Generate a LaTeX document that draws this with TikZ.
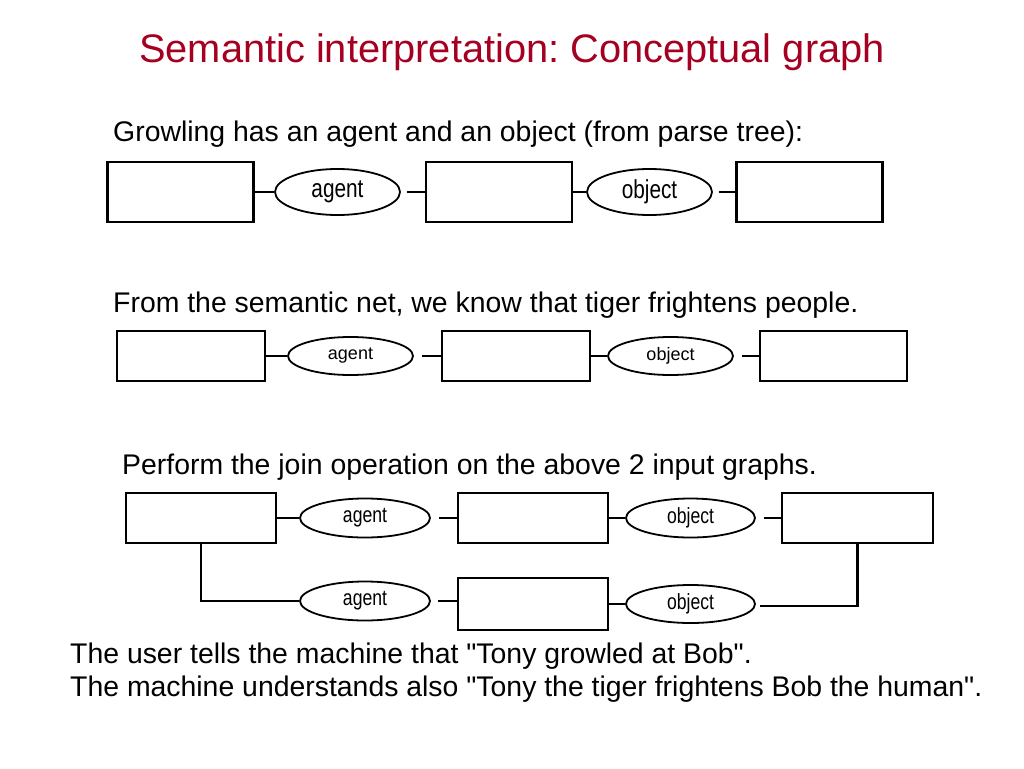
\documentclass[tikz,border=0pt]{standalone}
\usepackage{fontspec}
\setmainfont{Liberation Sans}[Ligatures=TeXOff]
\newfontfamily\narrowfont[FakeStretch=0.8]{Liberation Sans}
\usetikzlibrary{shapes.geometric}
\definecolor{titlered}{HTML}{A50021}
\frenchspacing
\begin{document}
\begin{tikzpicture}[x=1pt,y=-1pt,
  cbox/.style={draw,line width=2.2pt,minimum width=146pt,minimum height=60pt,inner sep=0pt},
  rel/.style={draw,ellipse,line width=1.8pt,minimum width=125pt,minimum height=46pt,inner sep=0pt},
  lnk/.style={line width=2.2pt},
  txt/.style={anchor=west,inner sep=0pt,font=\fontsize{28.4}{34}\selectfont},
  lbA/.style={font=\narrowfont\fontsize{26}{28}\selectfont},
  lbB/.style={font=\fontsize{18}{22}\selectfont},
  lbC/.style={font=\narrowfont\fontsize{22}{24}\selectfont}]
\useasboundingbox (0,0) rectangle (1024,768);
\fill[white] (0,0) rectangle (1024,768);
\node[text=titlered,font=\fontsize{39.8}{46}\selectfont,inner sep=0pt] (title) at (512,52) {Semantic interpretation: Conceptual graph};
% row 1
\node[txt] (t1) at (113,134) {Growling has an agent and an object (from parse tree):};
\node[cbox] (a1) at (180.5,192) {};
\node[rel,lbA] (e1) at (337.5,192) {agent};
\node[cbox] (b1) at (499,192) {};
\node[rel,lbA] (f1) at (649.5,192) {object};
\node[cbox] (c1) at (809.5,192) {};
\draw[lnk] (a1.east) -- (e1.west);
\draw[lnk,shorten <=6pt] (e1.east) -- (b1.west);
\draw[lnk] (b1.east) -- (f1.west);
\draw[lnk,shorten <=6pt] (f1.east) -- (c1.west);
% row 2
\node[txt] (t2) at (113,305) {From the semantic net, we know that tiger frightens people.};
\node[cbox,minimum width=148pt,minimum height=50pt] (a2) at (191,356) {};
\node[rel,lbB,minimum height=38pt] (e2) at (350.5,356) {agent};
\node[cbox,minimum width=148pt,minimum height=50pt] (b2) at (516,356) {};
\node[rel,lbB,minimum height=38pt] (f2) at (670.5,356) {object};
\node[cbox,minimum width=147pt,minimum height=50pt] (c2) at (833.5,356) {};
\draw[lnk] (a2.east) -- (e2.west);
\draw[lnk,shorten <=8pt] (e2.east) -- (b2.west);
\draw[lnk] (b2.east) -- (f2.west);
\draw[lnk,shorten <=8pt] (f2.east) -- (c2.west);
% row 3
\node[txt] (t3) at (122,467) {Perform the join operation on the above 2 input graphs.};
\node[cbox,minimum width=150pt,minimum height=50pt] (a3) at (201,518) {};
\node[rel,lbC,minimum width=130pt,minimum height=39pt] (e3) at (365,518) {agent};
\node[cbox,minimum width=150pt,minimum height=50pt] (b3) at (533,518) {};
\node[rel,lbC,minimum width=129pt,minimum height=39pt] (f3) at (690.5,518) {object};
\node[cbox,minimum width=151pt,minimum height=50pt] (c3) at (857.5,518) {};
\draw[lnk] (a3.east) -- (e3.west);
\draw[lnk,shorten <=8pt] (e3.east) -- (b3.west);
\draw[lnk] (b3.east) -- (f3.west);
\draw[lnk,shorten <=8pt] (f3.east) -- (c3.west);
\node[rel,lbC,minimum width=130pt,minimum height=39pt] (e4) at (365,601) {agent};
\node[cbox,minimum width=150pt,minimum height=52pt] (b4) at (533,604) {};
\node[rel,lbC,minimum width=129pt,minimum height=38pt] (f4) at (690.5,604) {object};
\coordinate (k1) at (a3.south |- e4.west);
\coordinate (k2) at ([xshift=4pt]f4.east |- 0,606);
\coordinate (k3) at (c3.south |- k2);
\draw[lnk] (a3.south) -- (k1) -- (e4.west);
\draw[lnk,shorten <=7pt] (e4.east) -- (e4.east -| b4.west);
\draw[lnk] (b4.east) -- (f4.west);
\draw[lnk] (k2) -- (k3) -- (c3.south);
% bottom text
\node[txt] (t4) at (70,656) {The user tells the machine that "Tony growled at Bob".};
\node[txt] (t5) at (70,689) {The machine understands also "Tony the tiger frightens Bob the human".};
\end{tikzpicture}
\end{document}
